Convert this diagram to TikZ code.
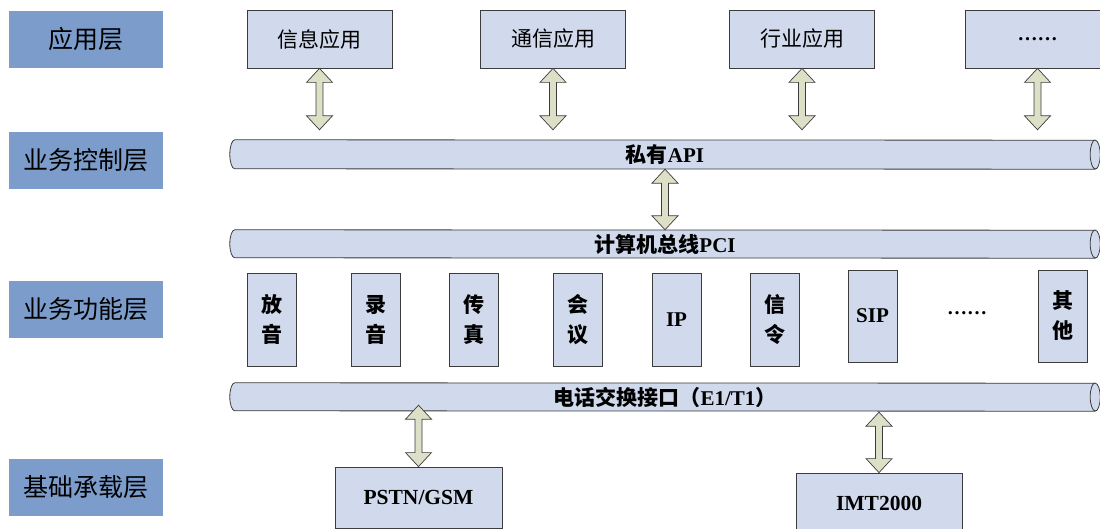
\documentclass[tikz,border=0pt]{standalone}
\usepackage{fontspec}
\setmainfont{Liberation Serif}
\newfontfamily\cjk{Noto Sans CJK SC}
\usetikzlibrary{calc,backgrounds}
\definecolor{labelblue}{RGB}{124,157,203}
\definecolor{boxblue}{RGB}{208,218,236}
\definecolor{arrowfill}{RGB}{221,224,199}
\definecolor{edge}{RGB}{60,60,60}

\newcommand\pipeshape[2]{%
  \fill[boxblue] let \p1=(#1.north west), \p2=(#1.south east) in
    (\x1+5pt,\y1) arc[start angle=90,end angle=270,x radius=5pt,y radius=#2]
    -- (\x2-5pt,\y2) arc[start angle=-90,end angle=90,x radius=5pt,y radius=#2] -- cycle;
  \draw[pipeedge] let \p1=(#1.north west), \p2=(#1.south east) in
    (\x1+5pt,\y1) arc[start angle=90,end angle=270,x radius=5pt,y radius=#2]
    -- (\x2-5pt,\y2) arc[start angle=-90,end angle=90,x radius=5pt,y radius=#2] -- cycle
    (\x2-5pt,\y1) arc[start angle=90,end angle=270,x radius=5pt,y radius=#2];
}
\newcommand\dblarrow[2]{%
  \draw[darrow] let \p1=(#1), \p2=(#2) in
    (\x1,\y1) -- (\x1+13pt,\y1-14pt) -- (\x1+3.5pt,\y1-14pt) -- (\x1+3.5pt,\y2+14pt)
    -- (\x1+13pt,\y2+14pt) -- (\x1,\y2) -- (\x1-13pt,\y2+14pt) -- (\x1-3.5pt,\y2+14pt)
    -- (\x1-3.5pt,\y1-14pt) -- (\x1-13pt,\y1-14pt) -- cycle;
}

\begin{document}
\begin{tikzpicture}[x=1pt,y=-1pt,
  layer/.style={fill=labelblue, minimum width=154pt, minimum height=57pt, inner sep=0pt,
    font=\fontsize{25}{28}\selectfont\cjk},
  appbox/.style={draw=edge, fill=boxblue, line width=0.8pt, minimum width=145pt,
    minimum height=58pt, inner sep=0pt, font=\fontsize{21}{24}\selectfont\cjk},
  funcbox/.style={draw=edge, fill=boxblue, line width=0.8pt, minimum width=49pt,
    minimum height=93pt, inner sep=0pt, align=center,
    font=\fontsize{21}{30}\selectfont\bfseries\cjk},
  latbox/.style={font=\fontsize{21}{24}\selectfont\bfseries\rmfamily},
  basebox/.style={draw=edge, fill=boxblue, line width=0.8pt, minimum width=167pt,
    minimum height=61pt, inner sep=0pt, font=\fontsize{21.5}{24}\selectfont\bfseries},
  pipe/.style={minimum width=870pt, minimum height=29pt, inner sep=0pt,
    font=\fontsize{21}{24}\selectfont\bfseries},
  pipeedge/.style={draw=edge, line width=0.8pt},
  darrow/.style={draw=edge, fill=arrowfill, line width=0.7pt, line join=miter},
  dots/.style={font=\fontsize{20}{24}\selectfont\bfseries}
]
\useasboundingbox (0,0) rectangle (1100,529);

% layer labels
\node[layer] (l1) at (86,39.5) {应用层};
\node[layer] (l2) at (86,160.5) {业务控制层};
\node[layer] (l3) at (86,309.5) {业务功能层};
\node[layer] (l4) at (86,487.5) {基础承载层};

% application boxes
\node[appbox] (info) at (319.5,39) {信息应用};
\node[appbox] (comm) at (553,39) {通信应用};
\node[appbox] (ind) at (802,39) {行业应用};
\node[appbox, font=\fontsize{20}{24}\selectfont\bfseries\rmfamily] (more) at (1037.5,39) {……};

% pipes
\node[pipe] (api) at (665,154.5) {{\cjk 私有}API};
\node[pipe, minimum height=28pt] (pci) at (665,244) {{\cjk 计算机总线}PCI};
\node[pipe, minimum height=28pt] (tel) at (665,397) {{\cjk 电话交换接口（}E1/T1{\cjk ）}};
\begin{scope}[on background layer]
  \fill[white] (0,0) rectangle (1100,529);
  \pipeshape{api}{14.5pt}
  \pipeshape{pci}{14pt}
  \pipeshape{tel}{14pt}
\end{scope}

% function boxes
\node[funcbox] (f1) at (271.5,319.5) {放\\音};
\node[funcbox] (f2) at (375.5,319.5) {录\\音};
\node[funcbox] (f3) at (473.5,319.5) {传\\真};
\node[funcbox] (f4) at (578,319.5) {会\\议};
\node[funcbox, latbox] (f5) at (676.5,319.5) {IP};
\node[funcbox] (f6) at (774.5,319.5) {信\\令};
\node[funcbox, latbox, minimum height=92pt] (f7) at (872.5,316) {SIP};
\node[dots] (f8) at (967,313) {……};
\node[funcbox, minimum height=92pt] (f9) at (1063,316) {其\\他};

% base boxes
\node[basebox] (pstn) at (418.5,497.5) {PSTN/GSM};
\node[basebox, minimum width=166pt, minimum height=60pt] (imt) at (879,503) {IMT2000};

% arrows
\dblarrow{info.south}{$(info.south |- api.north)+(0,-10)$}
\dblarrow{comm.south}{$(comm.south |- api.north)+(0,-10)$}
\dblarrow{ind.south}{$(ind.south |- api.north)+(0,-10)$}
\dblarrow{more.south}{$(more.south |- api.north)+(0,-10)$}
\dblarrow{api.south}{pci.north}
\dblarrow{$(pstn.north |- tel.south)+(0,-6)$}{pstn.north}
\dblarrow{$(imt.north |- tel.south)+(0,1)$}{imt.north}
\end{tikzpicture}
\end{document}
